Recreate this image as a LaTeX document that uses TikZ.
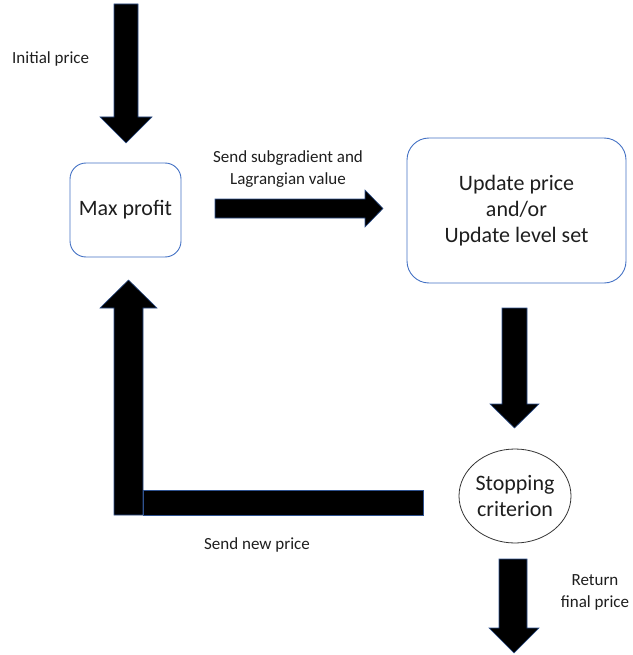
\documentclass[tikz,border=0pt]{standalone}
\usepackage{fontspec}
\setmainfont{Carlito}
\usetikzlibrary{shapes.geometric}
\definecolor{boxblue}{RGB}{68,114,196}
\definecolor{arrowedge}{RGB}{47,82,143}
\definecolor{txt}{RGB}{30,30,30}
\tikzset{
  blockarrow/.style={fill=black,draw=arrowedge,line width=0.6pt,line join=miter},
  roundbox/.style={draw=boxblue,line width=0.9pt,inner sep=0pt,align=center,font=\fontsize{22}{26}\selectfont,text=txt},
  ovalbox/.style={ellipse,draw=black!80,line width=0.8pt,inner sep=0pt,align=center,font=\fontsize{22}{26}\selectfont,text=txt},
  lbl/.style={inner sep=0pt,align=center,font=\fontsize{17}{22}\selectfont,text=txt}
}
\begin{document}
\begin{tikzpicture}[x=1pt,y=-1pt]
\useasboundingbox (0,0) rectangle (632,655);
% nodes
\node[roundbox,rounded corners=16pt,minimum width=111pt,minimum height=94pt] (maxp) at (125.5,210) {Max profit};
\node[roundbox,rounded corners=22pt,minimum width=219pt,minimum height=145pt] (upd) at (516.5,210.5) {Update price\\and/or\\Update level set};
\node[ovalbox,minimum width=112pt,minimum height=94pt] (stop) at (515,496) {Stopping\\criterion};
% labels
\node[lbl,anchor=west] (linit) at (12,59) {Initial price};
\node[lbl] (lsend) at (288,169) {Send subgradient and\\Lagrangian value};
\node[lbl] (lnew) at (257,545) {Send new price};
\node[lbl] (lret) at (595,592) {Return\\final price};
% block arrows
\draw[blockarrow] (114,4)--(138,4)--(138,117)--(152,117)--(126,143)--(100,117)--(114,117)--cycle;
\draw[blockarrow] (215,199)--(365,199)--(365,190)--(383,208.5)--(365,227)--(365,218)--(215,218)--cycle;
\draw[blockarrow] (502,308)--(527,308)--(527,404)--(539,404)--(514.5,428)--(490,404)--(502,404)--cycle;
\draw[blockarrow] (114,515)--(114,308)--(100,308)--(128.5,280)--(157,308)--(143,308)--(143,515)--cycle;
\draw[blockarrow] (143,490) rectangle (423,515);
\draw[blockarrow] (499,559)--(527,559)--(527,628)--(539,628)--(514,653)--(489,628)--(499,628)--cycle;
\end{tikzpicture}
\end{document}
